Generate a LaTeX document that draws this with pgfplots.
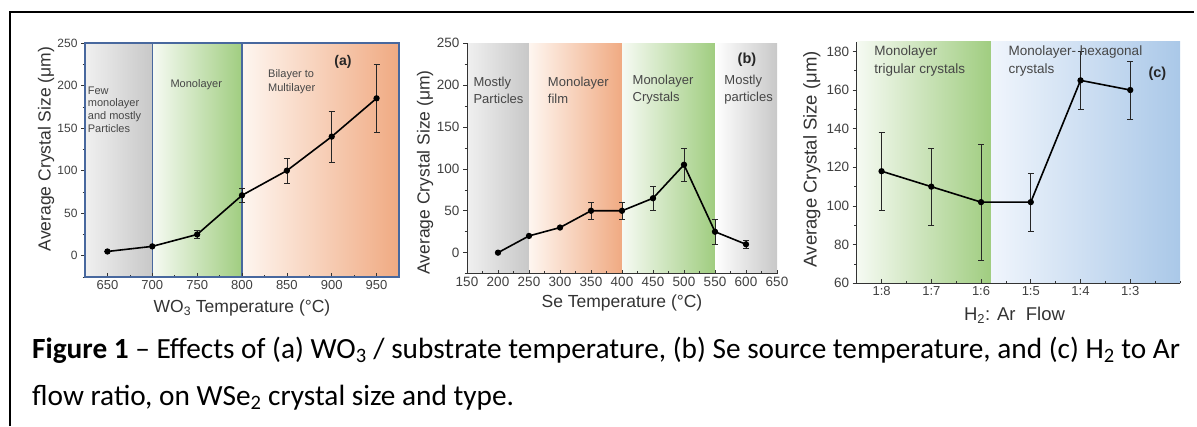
\documentclass[border=0pt]{standalone}
\usepackage{fontspec}
\setmainfont{Liberation Sans}
\newfontfamily\capfont{Carlito}
\usepackage{pgfplots}
\pgfplotsset{compat=1.18}

\definecolor{frameblue}{RGB}{72,104,158}
\definecolor{grayA}{RGB}{240,240,240}
\definecolor{grayB}{RGB}{200,200,200}
\definecolor{greenA}{RGB}{246,250,243}
\definecolor{greenB}{RGB}{160,205,128}
\definecolor{orangeA}{RGB}{254,246,240}
\definecolor{orangeB}{RGB}{240,170,130}
\definecolor{blueA}{RGB}{240,245,252}
\definecolor{blueB}{RGB}{170,200,232}
\definecolor{txt}{RGB}{70,70,70}

\tikzset{region/.style={text=txt, inner sep=0pt, align=left}}

\pgfplotsset{
  panel/.style={
    scale only axis, anchor=south west,
    /pgf/number format/assume math mode=true,
    axis on top,
    tick label style={font=\fontsize{13}{13}\selectfont, text=black!75},
    label style={font=\fontsize{17.5}{18}\selectfont, text=black!80},
    ylabel={Average Crystal Size (μm)},
  },
  ticks/.style={
    xtick align=inside, ytick align=outside,
    xtick pos=bottom, ytick pos=left,
    major tick length=4pt, minor tick length=2.5pt,
    every tick/.style={black!80, line width=0.6pt},
  },
  data/.style={black, line width=1.6pt, mark=*, mark size=2.3pt,
    error bars/.cd, y dir=both, y explicit,
    error bar style={line width=0.6pt, black!85},
    error mark options={rotate=90, mark size=3pt, line width=0.6pt, black!85}},
}

\begin{document}
\begin{tikzpicture}
\useasboundingbox (0,0) rectangle (1197pt,-426pt);

% (a)
\begin{axis}[panel, at={(85pt,-277pt)}, width=314pt, height=234pt,
  xmin=625, xmax=975, ymin=-25, ymax=250,
  xtick={650,700,...,950}, minor xtick={625,675,...,975},
  ytick={0,50,...,250}, minor ytick={-25,25,...,225},
  axis line style={frameblue, line width=1.3pt},
  ticks,
  yticklabel style={font=\fontsize{12}{12}\selectfont},
  xlabel={WO\textsubscript{3} Temperature (°C)},
  xlabel style={at={(axis description cs:0.5,-0.132)}, anchor=center},
  ylabel style={at={(axis description cs:-0.124,0.547)}, anchor=center},
]
\shade[left color=grayA, right color=grayB] (axis cs:625,-25) rectangle (axis cs:700,250);
\shade[left color=greenA, right color=greenB] (axis cs:700,-25) rectangle (axis cs:800,250);
\shade[left color=orangeA, right color=orangeB] (axis cs:800,-25) rectangle (axis cs:975,250);
\draw[frameblue, line width=1.3pt] (axis cs:700,-25) -- (axis cs:700,250);
\draw[frameblue, line width=1.3pt] (axis cs:800,-25) -- (axis cs:800,250);
\addplot[data] coordinates {
  (650,5) +- (0,0)
  (700,11) +- (0,0)
  (750,25) +- (0,5)
  (800,71) +- (0,8)
  (850,100) +- (0,15)
  (900,140) +- (0,30)
  (950,185) +- (0,40)
};
\node[region, anchor=north west, font=\fontsize{11}{12.7}\selectfont] at (axis cs:628,199)
  {Few\\monolayer\\and mostly\\Particles};
\node[region, anchor=center, font=\fontsize{11}{13}\selectfont] at (axis cs:749,200.5) {Monolayer};
\node[region, anchor=west, font=\fontsize{11}{14}\selectfont] at (axis cs:829,205) {Bilayer to\\Multilayer};
\node[inner sep=0, font=\bfseries\fontsize{14}{14}\selectfont, text=black!85] at (axis cs:912.6,227.4) {(a)};
\end{axis}

% (b)
\begin{axis}[panel, at={(467pt,-273.6pt)}, width=310pt, height=230.3pt,
  xmin=150, xmax=650, ymin=-25, ymax=250,
  xtick={150,200,...,650}, minor xtick={175,225,...,625},
  ytick={0,50,...,250}, minor ytick={-25,25,...,225},
  axis x line*=bottom, axis y line*=left,
  axis line style={black!80, line width=0.8pt},
  ticks,
  xticklabel style={font=\fontsize{13.5}{13}\selectfont},
  yticklabel style={font=\fontsize{13.5}{13}\selectfont},
  xlabel={Se Temperature (°C)},
  xlabel style={at={(axis description cs:0.5,-0.128)}, anchor=center},
  ylabel style={at={(axis description cs:-0.135,0.44)}, anchor=center},
]
\shade[left color=grayA, right color=grayB] (axis cs:150,-25) rectangle (axis cs:250,250);
\shade[left color=orangeA, right color=orangeB] (axis cs:250,-25) rectangle (axis cs:400,250);
\shade[left color=greenA, right color=greenB] (axis cs:400,-25) rectangle (axis cs:550,250);
\shade[left color=white, right color=grayB] (axis cs:550,-25) rectangle (axis cs:650,250);
\addplot[data] coordinates {
  (200,0) +- (0,0)
  (250,20) +- (0,0)
  (300,30) +- (0,0)
  (350,50) +- (0,10)
  (400,50) +- (0,10)
  (450,65) +- (0,14)
  (500,105) +- (0,20)
  (550,25) +- (0,15)
  (600,10) +- (0,5)
};
\node[region, anchor=west, font=\fontsize{13}{17}\selectfont] at (axis cs:160.2,194.2) {Mostly\\Particles};
\node[region, anchor=west, font=\fontsize{13}{17}\selectfont] at (axis cs:280.3,194.2) {Monolayer\\film};
\node[region, anchor=west, font=\fontsize{13}{17}\selectfont] at (axis cs:416.9,194.2) {Monolayer\\Crystals};
\node[region, anchor=west, font=\fontsize{13}{17}\selectfont] at (axis cs:564.9,194.2) {Mostly\\particles};
\node[inner sep=0, font=\bfseries\fontsize{14.5}{14}\selectfont, text=black!85] at (axis cs:601.6,230.9) {(b)};
\end{axis}

% (c)
\begin{axis}[panel, at={(856.7pt,-283.3pt)}, width=323.3pt, height=241.6pt,
  xmin=-0.5, xmax=6, ymin=60, ymax=185,
  xtick={0,...,5}, xticklabels={1:8,1:7,1:6,1:5,1:4,1:3},
  minor xtick={-0.5,0.5,...,5.5,6},
  ytick={60,80,...,180}, minor ytick={70,90,...,170},
  axis x line*=bottom, axis y line*=left,
  axis line style={black!80, line width=0.8pt},
  ticks,
  xticklabel style={font=\fontsize{13}{13}\selectfont},
  yticklabel style={font=\fontsize{13.5}{13}\selectfont},
  label style={font=\fontsize{18.5}{19}\selectfont},
  xlabel={H\textsubscript{2}: Ar\ \ Flow},
  xlabel style={at={(axis description cs:0.488,-0.131)}, anchor=center},
  ylabel style={at={(axis description cs:-0.139,0.514)}, anchor=center},
]
\shade[left color=greenA, right color=greenB] (axis cs:-0.5,60) rectangle (axis cs:2.2,185);
\shade[left color=blueA, right color=blueB] (axis cs:2.2,60) rectangle (axis cs:6,185);
\addplot[data] coordinates {
  (0,118) +- (0,20)
  (1,110) +- (0,20)
  (2,102) +- (0,30)
  (3,102) +- (0,15)
  (4,165) +- (0,15)
  (5,160) +- (0,15)
};
\node[region, anchor=west, font=\fontsize{13.5}{18}\selectfont] at (axis cs:-0.148,175.2) {Monolayer\\trigular crystals};
\node[region, anchor=west, font=\fontsize{13.5}{18}\selectfont] at (axis cs:2.552,175.2) {Monolayer- hexagonal\\crystals};
\node[inner sep=0, font=\bfseries\fontsize{14.5}{14}\selectfont, text=black!85] at (axis cs:5.546,168.2) {(c)};
\end{axis}

% frame and caption
\draw[line width=2pt] (10pt,-426pt) -- (10pt,-12pt) -- (1194pt,-12pt);
\node[anchor=base west, inner sep=0, font=\capfont\fontsize{29.3}{30}\selectfont] at (32pt,-358pt)
  {\textbf{Figure 1} – Effects of (a) WO\textsubscript{3} / substrate temperature, (b) Se source temperature, and (c) H\textsubscript{2} to Ar};
\node[anchor=base west, inner sep=0, font=\capfont\fontsize{29.3}{30}\selectfont] at (32pt,-405pt)
  {flow ratio, on WSe\textsubscript{2} crystal size and type.};
\end{tikzpicture}
\end{document}
